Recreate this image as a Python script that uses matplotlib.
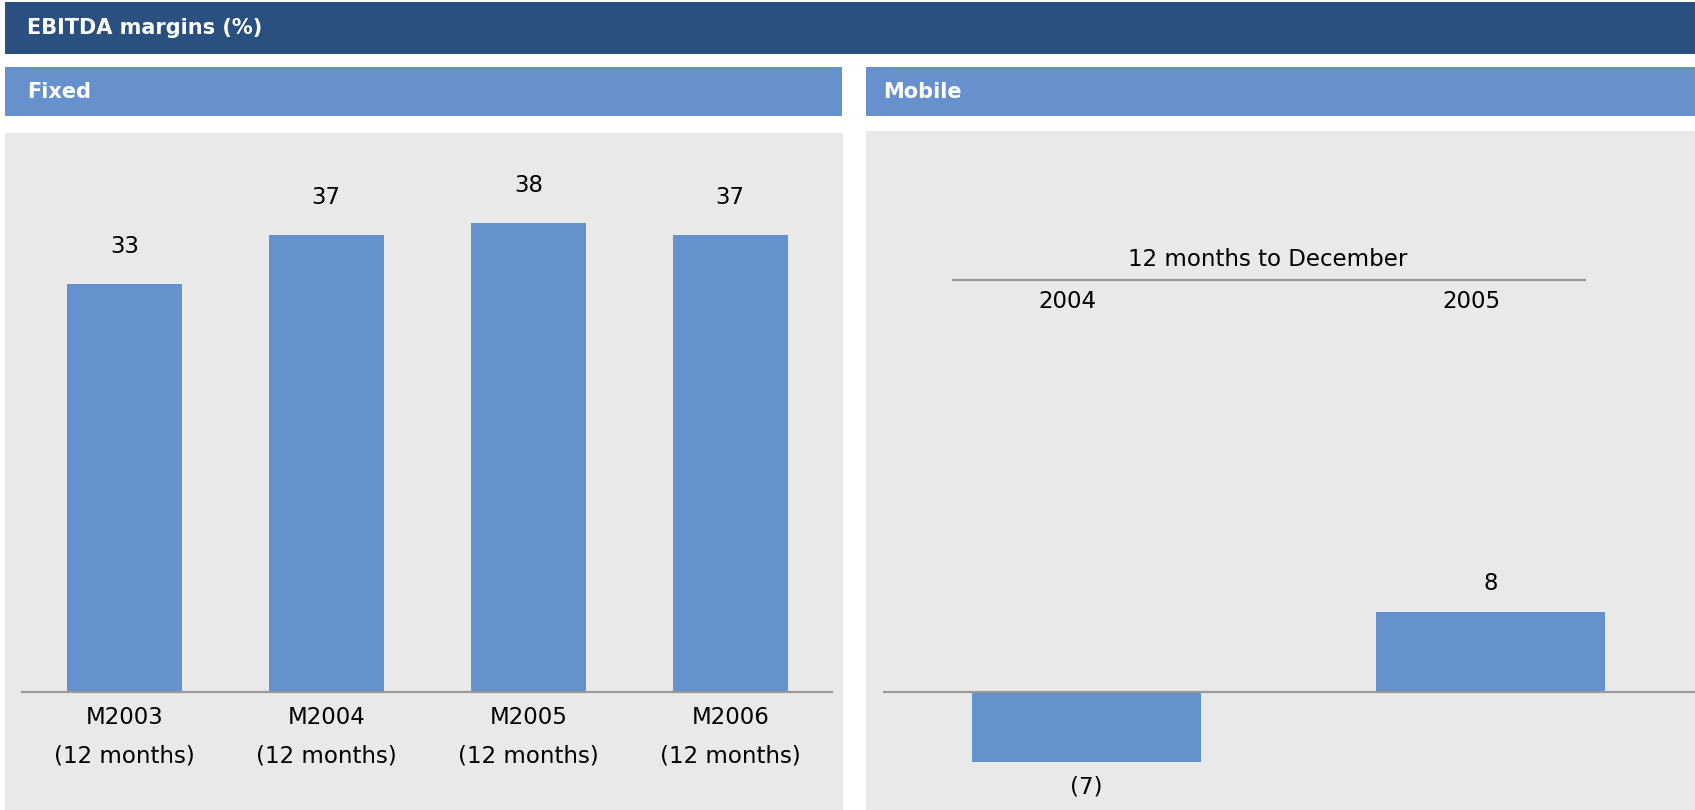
import numpy as np
import matplotlib
matplotlib.use('Agg')
from matplotlib import pyplot as plt
from matplotlib.patches import Rectangle

# EBITDA margins (%), fixed and mobile businesses
fixed_periods = ['M2003\n(12 months)', 'M2004\n(12 months)',
                 'M2005\n(12 months)', 'M2006\n(12 months)']
fixed_margin = [33, 37, 38, 37]

mobile_years = ['2004', '2005']
mobile_margin = [-7, 8]
mobile_caption = '12 months to December'

DARK = '#29507f'
LIGHT = '#6691cc'
BAR = '#6592cc'
PANEL = '#e9e9e9'
RULE = '#9a9a9a'

W, H = 1695, 810
plt.rcParams['font.family'] = ['DejaVu Sans']
fig = plt.figure(figsize=(W / 100, H / 100), dpi=100)


def frac(x0, y0, x1, y1):
    # pixel box (top-left origin) -> figure fraction [left, bottom, width, height]
    return [x0 / W, 1 - y1 / H, (x1 - x0) / W, (y1 - y0) / H]


def band(x0, y0, x1, y1, color, text, pad, size=15):
    l, b, w, h = frac(x0, y0, x1, y1)
    fig.patches.append(Rectangle((l, b), w, h, transform=fig.transFigure,
                                 facecolor=color, edgecolor='none'))
    fig.text((x0 + pad) / W, b + h / 2, text, color='white', fontsize=size,
             fontweight='bold', va='center', ha='left')


def fmt(v):
    return '(%d)' % abs(v) if v < 0 else '%d' % v


band(5, 2, W, 54, DARK, 'EBITDA margins (%)', 22)
band(5, 67, 842, 116, LIGHT, 'Fixed', 22)
band(866, 67, W, 116, LIGHT, 'Mobile', 17)

FS = 16.5

# --- Fixed ---
ax1 = fig.add_axes(frac(5, 133, 843, 810))
ax1.set_facecolor(PANEL)
x1 = np.arange(len(fixed_margin))
ax1.bar(x1, fixed_margin, width=0.567, color=BAR, zorder=2)
ax1.set_xlim(-0.591, 3.558)
ax1.set_ylim(-9.57, 45.25)
ax1.axhline(0, xmin=0.02, xmax=0.987, color=RULE, lw=1.6, zorder=3)
for xi, v, lab in zip(x1, fixed_margin, fixed_periods):
    ax1.annotate(fmt(v), (xi, v), xytext=(0, 27), textcoords='offset points',
                 ha='center', va='center', fontsize=FS)
    ax1.annotate(lab, (xi, 0), xytext=(0, -32.5), textcoords='offset points',
                 ha='center', va='center', fontsize=FS, linespacing=1.85)

# --- Mobile ---
ax2 = fig.add_axes(frac(866, 131, W, 810))
ax2.set_facecolor(PANEL)
x2 = np.arange(len(mobile_margin))
ax2.bar(x2, mobile_margin, width=0.567, color=BAR, zorder=2)
ax2.set_xlim(-0.546, 1.507)
ax2.set_ylim(-11.8, 55.97)
ax2.axhline(0, xmin=0.022, xmax=1.0, color=RULE, lw=1.6, zorder=3)
for xi, v in zip(x2, mobile_margin):
    off = 20 if v >= 0 else -18
    ax2.annotate(fmt(v), (xi, v), xytext=(0, off), textcoords='offset points',
                 ha='center', va='center', fontsize=FS)
    ax2.annotate(mobile_years[xi], (xi, 0.749), xycoords=('data', 'axes fraction'),
                 xytext=(-13.7, 0), textcoords='offset points',
                 ha='center', va='center', fontsize=FS)
ax2.text(0.484, 0.811, mobile_caption, transform=ax2.transAxes,
         ha='center', va='center', fontsize=FS)
ax2.plot([0.105, 0.867], [0.781, 0.781], transform=ax2.transAxes,
         color=RULE, lw=1.6)

for ax in (ax1, ax2):
    ax.set_xticks([])
    ax.set_yticks([])
    for s in ax.spines.values():
        s.set_visible(False)

fig.savefig('out.png', dpi=100)
